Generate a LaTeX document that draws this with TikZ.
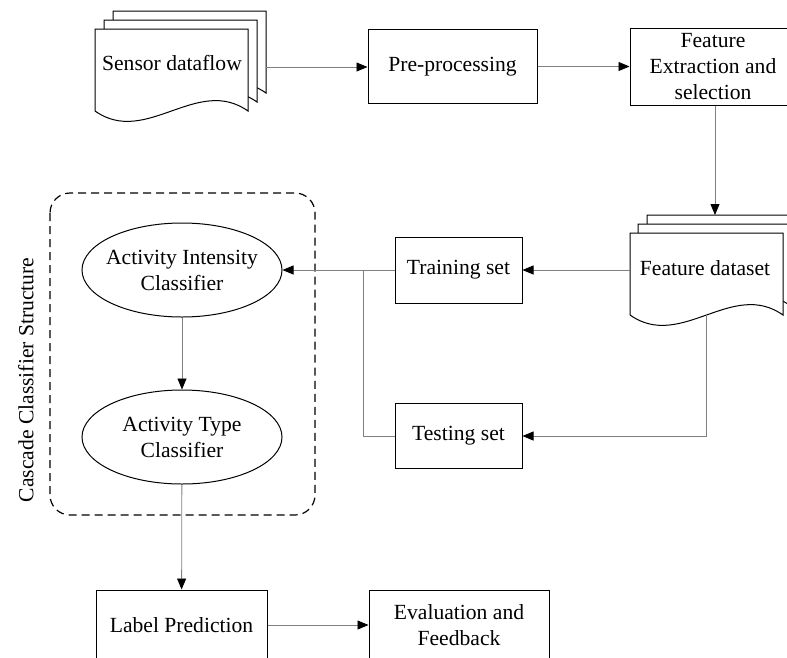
\documentclass[tikz,border=0pt]{standalone}
\usepackage{fontspec}
\setmainfont{Liberation Serif}
\usetikzlibrary{arrows.meta,shapes.geometric}
\begin{document}
\begin{tikzpicture}[x=1pt,y=-1pt,
  txt/.style={font=\fontsize{21.6}{26}\selectfont},
  box/.style={txt,draw=black,line width=1pt,rectangle,inner sep=0pt,align=center},
  ell/.style={txt,draw=black,line width=1pt,ellipse,inner xsep=-14pt,inner ysep=0pt,minimum width=200pt,minimum height=94pt,align=center},
  conn/.style={draw=gray,line width=0.8pt,-{Triangle[length=11pt,width=9pt,color=black]}},
  plain/.style={draw=gray,line width=0.8pt},
  docpage/.style={draw=black,line width=1pt,fill=white},
  groupbox/.style={draw=black,line width=1.2pt,dash pattern=on 8pt off 5pt,rounded corners=20pt},
  docpic/.pic={\path[docpage] (0,0) -- (153,0) -- (153,82) .. controls (102,46) and (51,118) .. (0,82) -- cycle;}
]
\useasboundingbox (0,0) rectangle (787,657);
\clip (0,0) rectangle (787,657);

% Sensor dataflow (stacked documents)
\pic at (113,11) {docpic};
\pic at (104,20) {docpic};
\pic at (95,29) {docpic};
\node[txt,inner sep=0pt] (sensor) at (172,63) {Sensor dataflow};
\coordinate (sensorR) at (266,67);

% Pre-processing and feature extraction
\node[box,minimum width=169pt,minimum height=74pt] (pre) at (452.5,66.5) {Pre-processing};
\node[box,minimum width=166pt,minimum height=77pt] (fe) at (713,66.5) {Feature\\Extraction and\\selection};

% Feature dataset (stacked documents)
\pic at (647,215) {docpic};
\pic at (638,224) {docpic};
\pic at (630,233) {docpic};
\node[txt,inner sep=0pt] (fd) at (705,268) {Feature dataset};
\coordinate (fdT) at (715,215);
\coordinate (fdL) at (630,270);
\coordinate (fdB) at (706,314);

% Training / testing
\node[box,minimum width=127pt,minimum height=66pt] (train) at (458.5,270) {Training set};
\node[box,minimum width=127pt,minimum height=65pt] (test) at (458.5,436) {Testing set};
\coordinate (br) at (363,270);

% Cascade classifier structure
\draw[groupbox] (50,193) rectangle (315,515);
\node[txt,rotate=90,inner sep=0pt] (cascade) at (26,380) {Cascade Classifier Structure};
\node[ell] (ai) at (182,270) {Activity Intensity\\Classifier};
\node[ell] (at) at (182,437) {Activity Type\\Classifier};

% Output
\node[box,minimum width=171pt,minimum height=70pt] (lp) at (181.5,625) {Label Prediction};
\node[box,minimum width=180pt,minimum height=70pt] (ev) at (459,625) {Evaluation and\\Feedback};

% Connectors
\draw[conn] (sensorR) -- (pre.west |- sensorR);
\draw[conn] (pre.east) -- (fe.west);
\draw[conn] (fe.south -| fdT) -- (fdT);
\draw[conn] (fdL) -- (train.east |- fdL);
\draw[conn] (fdB) |- (test.east);
\draw[conn] (train.west) -- (ai.east);
\draw[plain] (br) |- (test.west);
\draw[conn] (ai) -- (at);
\draw[conn] (at) -- (lp);
\draw[conn] (lp.east) -- (ev.west);
\end{tikzpicture}
\end{document}
